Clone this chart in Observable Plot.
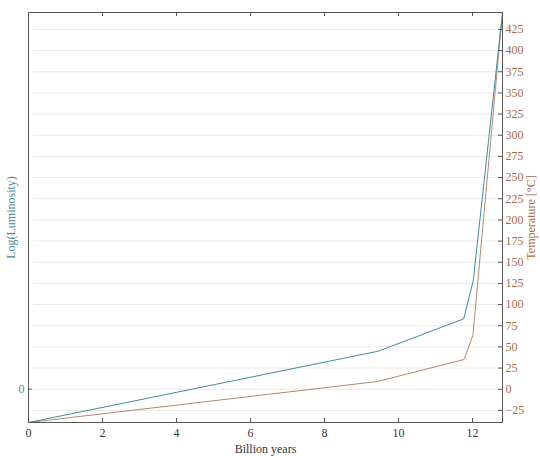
<!DOCTYPE html>
<html>
<head>
<meta charset="utf-8">
<script src="https://cdn.jsdelivr.net/npm/d3@7"></script>
<script src="https://cdn.jsdelivr.net/npm/@observablehq/plot@0.6"></script>
<style>
  html, body { margin: 0; padding: 0; background: #fff; }
  #chart svg, #chart svg text { font-family: "Liberation Serif", "Times New Roman", serif !important; }
</style>
</head>
<body>
<div id="chart"></div>
<script>
// Billion years
const years = [0, 9.45, 11.76, 12.02, 12.81];
// Log(Luminosity), expressed on the shared vertical scale (0 aligned with 0 °C)
const luminosity = [-39.3, 44.9, 83.1, 128.4, 445];
const tYears = [0, 9.43, 11.77, 12.01, 12.78];
// Temperature [°C]
const temperature = [-39.3, 9.1, 35.1, 63.4, 432];

const xTicks = [0, 2, 4, 6, 8, 10, 12];
const tempTicks = [-25, 0, 25, 50, 75, 100, 125, 150, 175, 200, 225, 250, 275, 300, 325, 350, 375, 400, 425];
const lumTicks = [0];

const lumData = years.map((x, i) => ({x, y: luminosity[i]}));
const tempData = tYears.map((x, i) => ({x, y: temperature[i]}));

const W = 540, H = 456;
const mL = 28, mR = 38, mT = 12, mB = 34;
const fw = W - mL - mR, fh = H - mT - mB;
const teal = "#3f8c9c", brown = "#b5876a", brownText = "#a86a48";
const serif = "Liberation Serif";

const chart = Plot.plot({
  width: W, height: H,
  marginLeft: mL, marginRight: mR, marginTop: mT, marginBottom: mB,
  style: `font-family: '${serif}', serif; font-size: 12px; background: #fff; color: #333;`,
  x: {domain: [0, 12.81]},
  y: {domain: [-39.3, 445]},
  marks: [
    Plot.ruleY(tempTicks, {stroke: "#e8e8e8", strokeWidth: 1, insetLeft: 5, insetRight: 3}),
    Plot.line(tempData, {x: "x", y: "y", stroke: brown, strokeWidth: 1}),
    Plot.line(lumData, {x: "x", y: "y", stroke: teal, strokeWidth: 1}),
    Plot.frame({stroke: "#555", strokeWidth: 1}),
    // inward tick marks
    Plot.ruleX(xTicks, {stroke: "#555", insetTop: fh - 4}),
    Plot.ruleX(xTicks, {stroke: "#555", insetBottom: fh - 4}),
    Plot.ruleY(tempTicks, {stroke: "#555", insetLeft: fw - 4}),
    Plot.ruleY(lumTicks, {stroke: "#555", insetRight: fw - 4}),
    Plot.axisX({ticks: xTicks, tickSize: 0, tickPadding: 6, fontFamily: serif, label: "Billion years", labelAnchor: "center", labelOffset: 30, labelArrow: "none", fill: "#333"}),
    Plot.axisY({anchor: "right", ticks: tempTicks, tickSize: 0, tickPadding: 3, fontFamily: serif, label: "Temperature [°C]", labelAnchor: "center", labelOffset: 32, labelArrow: "none", fill: brownText, color: brownText}),
    Plot.axisY({anchor: "left", ticks: lumTicks, tickSize: 0, tickPadding: 4, fontFamily: serif, label: "Log(Luminosity)", labelAnchor: "center", labelOffset: 22, labelArrow: "none", fill: teal, color: teal})
  ]
});
document.getElementById("chart").appendChild(chart);
</script>
</body>
</html>
